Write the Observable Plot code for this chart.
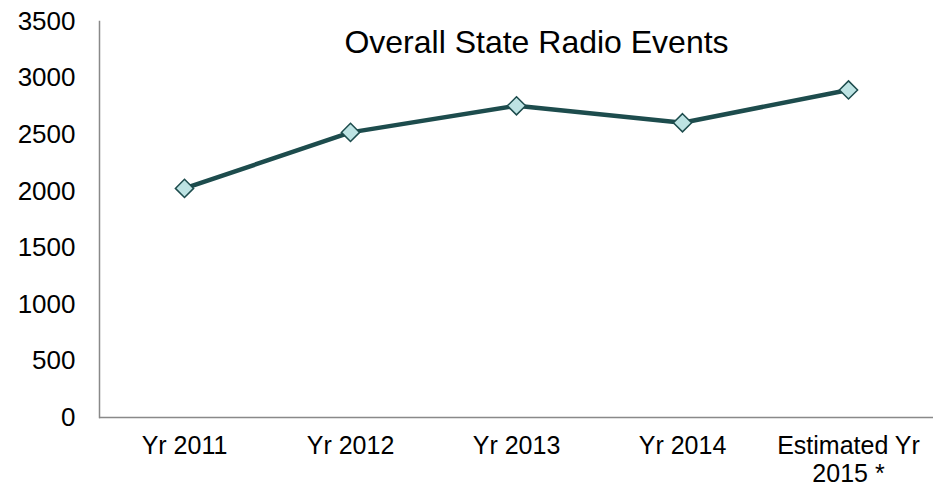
<!DOCTYPE html>
<html>
<head>
<meta charset="utf-8">
<script src="https://cdn.jsdelivr.net/npm/d3@7"></script>
<script src="https://cdn.jsdelivr.net/npm/@observablehq/plot@0.6"></script>
<style>
  html, body { margin: 0; padding: 0; background: #fff; }
  #chart svg { font-family: "Liberation Sans", Arial, sans-serif; }
</style>
</head>
<body>
<div id="chart"></div>
<script>
const title = "Overall State Radio Events";
const categories = ["Yr 2011", "Yr 2012", "Yr 2013", "Yr 2014", "Estimated Yr 2015"];
const tickLabels = ["Yr 2011", "Yr 2012", "Yr 2013", "Yr 2014", "Estimated Yr\n2015 *"];
const values = [2025, 2520, 2755, 2605, 2895];
const yTicks = [0, 500, 1000, 1500, 2000, 2500, 3000, 3500];

const data = categories.map((c, i) => ({category: c, value: values[i]}));
const labelOf = new Map(categories.map((c, i) => [c, tickLabels[i]]));

const lineColor = "#1d4c4d";
const markerFill = "#bde3e3";
const axisColor = "#898989";

const chart = Plot.plot({
  width: 945,
  height: 489,
  marginLeft: 99,
  marginRight: 12,
  marginTop: 21,
  marginBottom: 72,
  style: {fontFamily: "'Liberation Sans', Arial, sans-serif", background: "#fff", color: "#000"},
  x: {type: "band", domain: categories, padding: 0},
  y: {domain: [0, 3500]},
  marks: [
    Plot.frame({anchor: "left", stroke: axisColor, strokeWidth: 1.5}),
    Plot.ruleY([0], {stroke: axisColor, strokeWidth: 1.5}),
    Plot.axisY({ticks: yTicks, tickSize: 0, tickPadding: 24, fontSize: 26, label: null, fill: "#000",
      tickFormat: d => String(d)}),
    Plot.axisX({tickSize: 0, tickPadding: 17, fontSize: 25, label: null, fill: "#000",
      tickFormat: d => labelOf.get(d), lineHeight: 1.12}),
    Plot.line(data, {x: "category", y: "value", stroke: lineColor, strokeWidth: 4.5}),
    Plot.dot(data, {x: "category", y: "value", symbol: "diamond2", r: 8.2,
      fill: markerFill, stroke: lineColor, strokeWidth: 1.5}),
    Plot.text([title], {frameAnchor: "top", dx: 20, dy: 31, lineAnchor: "bottom",
      fontSize: 32, fill: "#000"})
  ]
});
document.getElementById("chart").appendChild(chart);
</script>
</body>
</html>
